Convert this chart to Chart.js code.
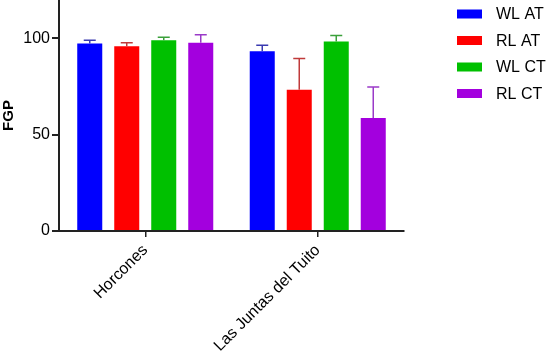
<!DOCTYPE html>
<html lang="en">
<head>
    <meta charset="UTF-8">
    <title>FGP chart</title>
    <style>
        body {
            margin: 0;
            padding: 0;
            background: #fff;
        }

        .chart-container {
            width: 546px;
            height: 352px;
        }
    </style>
</head>
<body>
    <div class="chart-container">
        <canvas id="fgpChart"></canvas>
    </div>

    <script src="https://cdn.jsdelivr.net/npm/chart.js"></script>

    <script>
        // Data
        const categories = ['Horcones', 'Las Juntas del Tuito'];
        const seriesNames = ['WL AT', 'RL AT', 'WL CT', 'RL CT'];
        const wlAT = [97.4, 93.4];
        const rlAT = [96.0, 73.4];
        const wlCT = [99.1, 98.4];
        const rlCT = [97.8, 58.7];
        // upper error (SEM)
        const wlATErr = [1.7, 3.1];
        const rlATErr = [1.8, 16.2];
        const wlCTErr = [1.6, 3.2];
        const rlCTErr = [4.2, 16.1];
        const yTicks = [0, 50, 100];

        const barColors = ['#0000ff', '#ff0000', '#00c000', '#a300de'];
        const errColors = ['#3a3ab0', '#c03a3a', '#3aa03a', '#9a3ac8'];

        const values = [wlAT, rlAT, wlCT, rlCT];
        const errors = [wlATErr, rlATErr, wlCTErr, rlCTErr];

        const FONT = 'Liberation Sans, Arial';

        // Draws the upward error bars with caps
        const errorBars = {
            id: 'errorBars',
            afterDatasetsDraw(chart) {
                const ctx = chart.ctx;
                const yScale = chart.scales.y;
                chart.data.datasets.forEach((ds, i) => {
                    const meta = chart.getDatasetMeta(i);
                    meta.data.forEach((bar, j) => {
                        const top = yScale.getPixelForValue(ds.data[j] + ds.errors[j]);
                        ctx.save();
                        ctx.strokeStyle = ds.errColor;
                        ctx.lineWidth = 1.5;
                        ctx.beginPath();
                        ctx.moveTo(bar.x, bar.y);
                        ctx.lineTo(bar.x, top);
                        ctx.moveTo(bar.x - 6, top);
                        ctx.lineTo(bar.x + 6, top);
                        ctx.stroke();
                        ctx.restore();
                    });
                });
            }
        };

        // Legend on the right, drawn in the free space past the plot
        const sideLegend = {
            id: 'sideLegend',
            afterDraw(chart) {
                const ctx = chart.ctx;
                const boxX = chart.chartArea.right + 53;
                ctx.save();
                ctx.font = '16px ' + FONT;
                ctx.textBaseline = 'middle';
                chart.data.datasets.forEach((ds, i) => {
                    const y = 14 + i * 26.5;
                    ctx.fillStyle = ds.backgroundColor;
                    ctx.fillRect(boxX, y - 4.5, 25, 9);
                    ctx.fillStyle = '#000';
                    ctx.fillText(ds.label, boxX + 39, y + 1);
                });
                ctx.restore();
            }
        };

        function renderChart() {
            const ctx = document.getElementById('fgpChart').getContext('2d');
            new Chart(ctx, {
                type: 'bar',
                data: {
                    labels: categories,
                    datasets: seriesNames.map((name, i) => ({
                        label: name,
                        data: values[i],
                        errors: errors[i],
                        errColor: errColors[i],
                        backgroundColor: barColors[i],
                        borderWidth: 0,
                        categoryPercentage: 0.858,
                        barPercentage: 0.676
                    }))
                },
                plugins: [errorBars, sideLegend],
                options: {
                    responsive: true,
                    maintainAspectRatio: false,
                    animation: false,
                    layout: {
                        padding: { top: 0, right: 142, left: 0, bottom: 0 }
                    },
                    plugins: {
                        tooltip: { enabled: false },
                        legend: { display: false }
                    },
                    scales: {
                        x: {
                            offset: true,
                            grid: {
                                offset: false,
                                drawOnChartArea: false,
                                drawTicks: true,
                                tickLength: 6,
                                color: '#222',
                                lineWidth: 1.5
                            },
                            border: { display: true, color: '#222', width: 2 },
                            ticks: {
                                minRotation: 45,
                                maxRotation: 45,
                                color: '#000',
                                padding: 4,
                                font: { family: FONT, size: 16 }
                            },
                            afterFit(scale) {
                                scale.height = 121;
                                scale.paddingRight = 0;
                            }
                        },
                        y: {
                            min: 0,
                            max: 120,
                            afterBuildTicks(scale) {
                                scale.ticks = yTicks.map(v => ({ value: v }));
                            },
                            grid: {
                                drawOnChartArea: false,
                                drawTicks: true,
                                tickLength: 7,
                                color: '#222',
                                lineWidth: 2
                            },
                            border: { display: true, color: '#222', width: 2 },
                            ticks: {
                                color: '#000',
                                padding: 2,
                                font: { family: FONT, size: 16 }
                            },
                            title: {
                                display: true,
                                text: 'FGP',
                                color: '#000',
                                padding: 0,
                                font: { family: FONT, size: 15, weight: 'bold' }
                            },
                            afterFit(scale) {
                                scale.width = 59;
                                scale.paddingTop = 0;
                            }
                        }
                    }
                }
            });
        }

        window.onload = function() {
            renderChart();
        }
    </script>
</body>
</html>
